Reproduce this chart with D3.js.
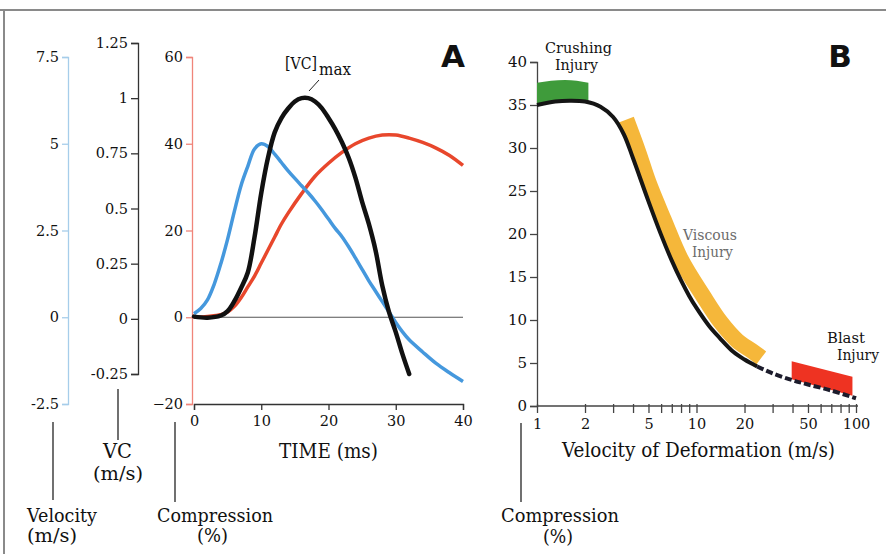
<!DOCTYPE html>
<html>
<head>
<meta charset="utf-8">
<script src="https://cdn.jsdelivr.net/npm/d3@7"></script>
<style>
  body { margin: 0; background: #fff; }
  svg { display: block; }
  text { font-family: "DejaVu Serif", serif; fill: #111; }
</style>
</head>
<body>
<div id="chart"></div>
<script>
// ---- panel A data ----
const velTime = [0,1,2,3,4,5,6,7,8,9,10,11,12,13,14,15,16,17,18,19,20,21,22,23,24,25,26,27,28,29,30,31,32,34,36,38,40];
const velocity = [0.1,0.25,0.5,0.95,1.55,2.25,3.05,3.8,4.35,4.85,5.0,4.92,4.7,4.46,4.22,4.0,3.79,3.58,3.35,3.1,2.83,2.56,2.32,2.03,1.71,1.38,1.05,0.75,0.45,0.15,-0.15,-0.42,-0.65,-1.0,-1.33,-1.6,-1.85];

const vcTime = [0,2,4,5,6,7,8,9,10,11,12,13,14,15,16,17,18,19,20,21,22,23,24,25,26,27,28,29,30,31,32];
const vcValues = [0.01,0.005,0.015,0.035,0.08,0.14,0.21,0.37,0.57,0.73,0.845,0.91,0.953,0.985,1.0,1.0,0.985,0.955,0.91,0.86,0.8,0.73,0.64,0.53,0.43,0.31,0.15,0.03,-0.06,-0.16,-0.25];

const compTime = [0,2,4,5,6,7,8,9,10,11,12,13,14,16,18,20,22,24,26,28,30,32,34,36,38,40];
const compression = [0,0.2,0.6,1.2,2.5,4.5,7,9.5,12.5,15.5,18.5,21.5,24,28.5,32.5,35.5,38,40,41.3,42,42,41.3,40.3,39,37.3,35];

const velTicks = [-2.5,0,2.5,5,7.5];
const vcTicks = [-0.25,0,0.25,0.5,0.75,1,1.25];
const compTicks = [-20,0,20,40,60];
const timeTicks = [0,10,20,30,40];

// ---- panel B data ----
const curveVel = [1,1.3,1.6,2,2.5,3,3.5,4,5,6,7,8,9,10,12,14,17,20,24];
const curveComp = [35,35.4,35.5,35.4,34.8,33.6,31.6,28.8,23.8,19.9,16.9,14.6,12.8,11.4,9.3,7.9,6.3,5.4,4.6];
const dashVel = [24,30,40,50,70,100];
const dashComp = [4.6,3.8,3.0,2.5,1.8,0.9];

const crushVel = [1,1.5,2.1];
const crushLow = [35,35.5,35.3];
const crushHigh = [37.6,37.9,37.6];

const viscVel = [3.63,4.32,5,6.22,8,11,14.1,18,22.3,25.5];
const viscComp = [33.3,29.5,26,21.7,17.0,12.8,9.8,7.6,6.4,5.6];

const blastVel = [39.5,95];
const blastLow = [3.1,1.2];
const blastHigh = [5.2,3.4];

const bTicksY = [0,5,10,15,20,25,30,35,40];
const bTicksX = [1,2,3,4,5,6,7,8,9,10,20,30,40,50,60,70,80,90,100];
const bLabelsX = [1,2,5,10,20,50,100];

const width = 886, height = 554;

const svg = d3.select("#chart").append("svg")
    .attr("width", width)
    .attr("height", height);

// frame
svg.append("line").attr("x1", 0).attr("x2", width).attr("y1", 10).attr("y2", 10)
    .style("stroke", "#8a8a8a").style("stroke-width", 2);
svg.append("line").attr("x1", 4).attr("x2", 4).attr("y1", 10).attr("y2", height)
    .style("stroke", "#8a8a8a").style("stroke-width", 2);

// scales, panel A
let x = d3.scaleLinear().domain([0,40]).range([194,463]);
let yComp = d3.scaleLinear().domain([-20,60]).range([404,57]);
let yVC = d3.scaleLinear().domain([-0.25,1.25]).range([374,43]);
let yVel = d3.scaleLinear().domain([-2.5,7.5]).range([404,57]);

// scales, panel B
let xb = d3.scaleLog().domain([1,100]).range([537,856]);
let yb = d3.scaleLinear().domain([0,40]).range([406,62]);

function styleAxis(g, color, size) {
    g.select(".domain").style("stroke", color).style("stroke-width", 1.3);
    g.selectAll(".tick line").style("stroke", color).style("stroke-width", 1.3);
    g.selectAll(".tick text").style("font-family", "DejaVu Serif").style("font-size", size + "px").style("fill", "#111");
}

// velocity axis
svg.append("g").attr("transform", "translate(68,0)")
    .call(d3.axisLeft(yVel).tickValues(velTicks).tickSizeOuter(0).tickSize(6).tickPadding(3).tickFormat(d => String(d)))
    .call(g => styleAxis(g, "#a6cdea", 14.5));

// VC axis
svg.append("g").attr("transform", "translate(138,0)")
    .call(d3.axisLeft(yVC).tickValues(vcTicks).tickSizeOuter(0).tickSize(7).tickPadding(3).tickFormat(d => String(d)))
    .call(g => styleAxis(g, "#333", 14.5));

// compression axis
svg.append("g").attr("transform", "translate(192,0)")
    .call(d3.axisLeft(yComp).tickValues(compTicks).tickSizeOuter(0).tickSize(6).tickPadding(3))
    .call(g => styleAxis(g, "#f0857a", 14.5));

// time axis
svg.append("g").attr("transform", "translate(0,404)")
    .call(d3.axisBottom(x).tickValues(timeTicks).tickSizeOuter(0).tickSize(6).tickPadding(6))
    .call(g => styleAxis(g, "#333", 14.5));

// zero line
svg.append("line")
    .attr("x1", x(0) - 1).attr("x2", x(40))
    .attr("y1", yComp(0)).attr("y2", yComp(0))
    .style("stroke", "#555").style("stroke-width", 1.2);

let smooth = d3.curveCatmullRom.alpha(0.5);

svg.append("path")
    .datum(compTime.map((t, i) => [t, compression[i]]))
    .attr("d", d3.line().x(d => x(d[0])).y(d => yComp(d[1])).curve(smooth))
    .style("fill", "none").style("stroke", "#e8472c").style("stroke-width", 3.5);

svg.append("path")
    .datum(velTime.map((t, i) => [t, velocity[i]]))
    .attr("d", d3.line().x(d => x(d[0])).y(d => yVel(d[1])).curve(smooth))
    .style("fill", "none").style("stroke", "#4598dd").style("stroke-width", 3.5);

svg.append("path")
    .datum(vcTime.map((t, i) => [t, vcValues[i]]))
    .attr("d", d3.line().x(d => x(d[0])).y(d => yVC(d[1])).curve(smooth))
    .style("fill", "none").style("stroke", "#111").style("stroke-width", 4.5)
    .style("stroke-linecap", "round");

// [VC]max annotation
svg.append("line").attr("x1", 309).attr("y1", 91).attr("x2", 319).attr("y2", 80)
    .style("stroke", "#222").style("stroke-width", 1);

function label(txt, lx, ly, w, size, fill) {
    svg.append("text")
        .attr("x", lx).attr("y", ly)
        .attr("textLength", w).attr("lengthAdjust", "spacingAndGlyphs")
        .style("font-size", size + "px")
        .style("fill", fill || "#111")
        .text(txt);
}

label("[VC]", 285, 69, 32, 16);
label("max", 319, 75, 32, 16);

// panel letters
svg.append("text").attr("x", 453).attr("y", 67).attr("text-anchor", "middle")
    .style("font-family", "DejaVu Sans").style("font-weight", "bold").style("font-size", "31px")
    .text("A");
svg.append("text").attr("x", 840).attr("y", 67).attr("text-anchor", "middle")
    .style("font-family", "DejaVu Sans").style("font-weight", "bold").style("font-size", "31px")
    .text("B");

// ---- panel B ----
svg.append("g").attr("transform", "translate(537,0)")
    .call(d3.axisLeft(yb).tickValues(bTicksY).tickSizeOuter(0).tickSize(7).tickPadding(3))
    .call(g => styleAxis(g, "#444", 15));

let xAxisB = svg.append("g").attr("transform", "translate(0,406)")
    .call(d3.axisBottom(xb).tickValues(bTicksX).tickSizeOuter(0).tickSize(7).tickPadding(6)
        .tickFormat(d => bLabelsX.includes(d) ? String(d) : ""))
    .call(g => styleAxis(g, "#444", 14.5));
xAxisB.select(".domain").attr("d", "M537,0H858");
xAxisB.selectAll(".tick line").attr("y1", -2);

let crushData = crushVel.map((v, i) => ({v: v, lo: crushLow[i], hi: crushHigh[i]}));
svg.append("path")
    .datum(crushData)
    .attr("d", d3.area().x(d => xb(d.v)).y0(d => yb(d.lo)).y1(d => yb(d.hi)).curve(d3.curveMonotoneX))
    .style("fill", "#3f9b3b");

let blastData = blastVel.map((v, i) => ({v: v, lo: blastLow[i], hi: blastHigh[i]}));
svg.append("path")
    .datum(blastData)
    .attr("d", d3.area().x(d => xb(d.v)).y0(d => yb(d.lo)).y1(d => yb(d.hi)))
    .style("fill", "#ee3322");

svg.append("path")
    .datum(viscVel.map((v, i) => [v, viscComp[i]]))
    .attr("d", d3.line().x(d => xb(d[0])).y(d => yb(d[1])).curve(smooth))
    .style("fill", "none").style("stroke", "#f5b73a").style("stroke-width", 16)
    .style("stroke-linecap", "butt");

svg.append("path")
    .datum(curveVel.map((v, i) => [v, curveComp[i]]))
    .attr("d", d3.line().x(d => xb(d[0])).y(d => yb(d[1])).curve(smooth))
    .style("fill", "none").style("stroke", "#151515").style("stroke-width", 4);

svg.append("path")
    .datum(dashVel.map((v, i) => [v, dashComp[i]]))
    .attr("d", d3.line().x(d => xb(d[0])).y(d => yb(d[1])).curve(smooth))
    .style("fill", "none").style("stroke", "#1c1c2c").style("stroke-width", 4)
    .style("stroke-dasharray", "7,3");

label("Crushing", 545, 53, 67, 15);
label("Injury", 555, 70, 43, 15);
label("Viscous", 683, 240, 54, 14.5, "#6b6b6b");
label("Injury", 692, 257, 41, 14.5, "#6b6b6b");
label("Blast", 827, 343, 38, 15);
label("Injury", 837, 360, 42, 15);

// axis titles
label("TIME (ms)", 279, 458, 99, 19.5);
label("Velocity of Deformation (m/s)", 562, 457, 273, 20);

// leader lines and bottom labels
const leaders = [[53, 422, 500], [118, 389, 440], [175, 422, 502], [521, 423, 502]];
leaders.forEach(l => {
    svg.append("line").attr("x1", l[0]).attr("x2", l[0]).attr("y1", l[1]).attr("y2", l[2])
        .style("stroke", "#111").style("stroke-width", 1.2);
});

label("Velocity", 27, 522, 70, 19);
label("(m/s)", 27, 542, 50, 19);
label("VC", 103, 458, 29, 19.5);
label("(m/s)", 93, 480, 50, 19);
label("Compression", 157, 522, 116, 19);
label("(%)", 197, 542, 31, 19);
label("Compression", 501, 522, 118, 19);
label("(%)", 543, 543, 30, 19);
</script>
</body>
</html>
